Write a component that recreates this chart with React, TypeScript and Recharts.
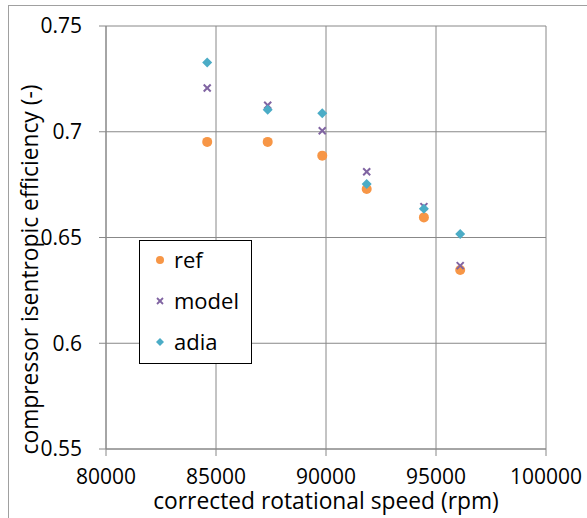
import React from 'react';
import { ScatterChart, Scatter, XAxis, YAxis, CartesianGrid } from 'recharts';

const xTicks = [80000, 85000, 90000, 95000, 100000];
const yTicks = [0.55, 0.6, 0.65, 0.7, 0.75];
const speed = [84600, 87350, 89830, 91850, 94450, 96100];
const refEff = [0.6952, 0.6952, 0.6887, 0.6729, 0.6595, 0.6346];
const modelEff = [0.7207, 0.7125, 0.7005, 0.6811, 0.6646, 0.6367];
const adiaEff = [0.7328, 0.7104, 0.7087, 0.6753, 0.6636, 0.6517];

const refData = speed.map((x, i) => ({ x, y: refEff[i] }));
const modelData = speed.map((x, i) => ({ x, y: modelEff[i] }));
const adiaData = speed.map((x, i) => ({ x, y: adiaEff[i] }));

const FONT = '"Open Sans", Lato, sans-serif';
const FS = 21;
const LFS = 22;
const TFS = 22.8;
const ORANGE = '#F79646';
const PURPLE = '#8064A2';
const CYAN = '#4BACC6';
const GRID = '#888888';

const CircleShape = (p: any) => <circle cx={p.cx} cy={p.cy} r={5} fill={ORANGE} />;
const XShape = (p: any) => {
  const s = 3.5;
  return (
    <g stroke={PURPLE} strokeWidth={2}>
      <line x1={p.cx - s} y1={p.cy - s} x2={p.cx + s} y2={p.cy + s} />
      <line x1={p.cx - s} y1={p.cy + s} x2={p.cx + s} y2={p.cy - s} />
    </g>
  );
};
const DiamondShape = (p: any) => {
  const s = 5;
  return (
    <polygon
      points={`${p.cx},${p.cy - s} ${p.cx + s},${p.cy} ${p.cx},${p.cy + s} ${p.cx - s},${p.cy}`}
      fill={CYAN}
    />
  );
};

const legendItems = [
  { name: 'ref', kind: 'circle' },
  { name: 'model', kind: 'x' },
  { name: 'adia', kind: 'diamond' },
];

const LegendBox = () => (
  <div
    style={{
      position: 'absolute',
      left: 139,
      top: 240,
      width: 113,
      height: 124,
      border: '1.5px solid #000',
      boxSizing: 'border-box',
      background: '#fff',
    }}
  >
    <svg width={110} height={121} style={{ position: 'absolute', left: 0, top: 0 }}>
      {legendItems.map((it, i) => {
        const cy = 19 + i * 41;
        const cx = 20;
        return (
          <g key={it.name}>
            {it.kind === 'circle' && <circle cx={cx} cy={cy} r={4} fill={ORANGE} />}
            {it.kind === 'x' && (
              <g stroke={PURPLE} strokeWidth={1.8}>
                <line x1={cx - 3} y1={cy - 3} x2={cx + 3} y2={cy + 3} />
                <line x1={cx - 3} y1={cy + 3} x2={cx + 3} y2={cy - 3} />
              </g>
            )}
            {it.kind === 'diamond' && (
              <polygon points={`${cx},${cy - 4} ${cx + 4},${cy} ${cx},${cy + 4} ${cx - 4},${cy}`} fill={CYAN} />
            )}
            <text x={34} y={cy + 7.5} fontSize={LFS} fontFamily={FONT} fill="#000">
              {it.name}
            </text>
          </g>
        );
      })}
    </svg>
  </div>
);

const YTitle = (props: any) => {
  const vb = props.viewBox || {};
  const cx = 29;
  const cy = vb.y + vb.height / 2 + 32;
  return (
    <text
      x={cx}
      y={cy}
      transform={`rotate(-90 ${cx} ${cy})`}
      textAnchor="middle"
      dominantBaseline="central"
      fontSize={TFS}
      fontFamily={FONT}
      fill="#000"
    >
      compressor isentropic efficiency (-)
    </text>
  );
};

export default function App() {
  return (
    <div style={{ position: 'absolute', left: 0, top: 0, width: 587, height: 518, overflow: 'hidden', background: '#fff' }}>
      <div
        style={{
          position: 'absolute',
          left: 8,
          top: 5,
          width: 700,
          height: 700,
          border: '1px solid #a0a0a0',
        }}
      />
      <div style={{ position: 'absolute', left: 0, top: 0 }}>
        <ScatterChart width={587} height={518} margin={{ top: 26, right: 41, left: 46, bottom: 9 }} style={{ fontFamily: FONT }}>
          <CartesianGrid stroke={GRID} strokeWidth={1} />
          <XAxis
            type="number"
            dataKey="x"
            domain={[80000, 100000]}
            ticks={xTicks}
            height={60}
            tickSize={7}
            tickMargin={13}
            axisLine={{ stroke: GRID }}
            tickLine={{ stroke: GRID }}
            tick={{ fill: '#000', fontSize: FS, fontFamily: FONT }}
            label={{ value: 'corrected rotational speed (rpm)', position: 'insideBottom', offset: 0, fill: '#000', fontSize: TFS, fontFamily: FONT }}
          />
          <YAxis
            type="number"
            dataKey="y"
            domain={[0.55, 0.75]}
            ticks={yTicks}
            width={60}
            tickSize={7}
            tickMargin={17}
            axisLine={{ stroke: GRID }}
            tickLine={{ stroke: GRID }}
            tick={{ fill: '#000', fontSize: FS, fontFamily: FONT }}
            label={<YTitle />}
          />
          <Scatter name="ref" data={refData} shape={<CircleShape />} isAnimationActive={false} />
          <Scatter name="model" data={modelData} shape={<XShape />} isAnimationActive={false} />
          <Scatter name="adia" data={adiaData} shape={<DiamondShape />} isAnimationActive={false} />
        </ScatterChart>
      </div>
      <LegendBox />
    </div>
  );
}
